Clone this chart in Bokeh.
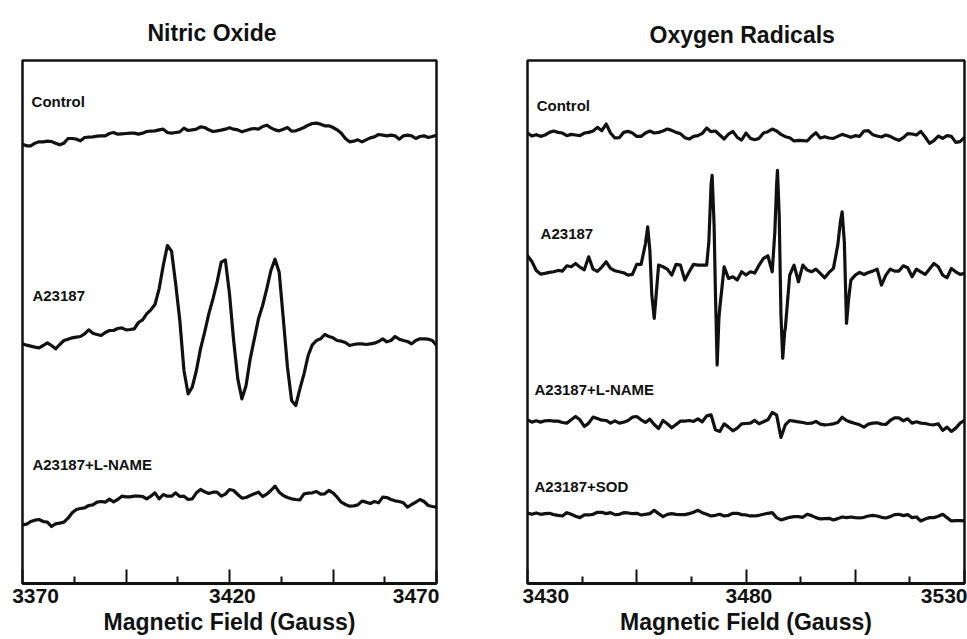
import numpy as np
from bokeh.plotting import figure
from bokeh.layouts import row
from bokeh.models import Range1d, FixedTicker, Label
from bokeh.embed import file_html
from bokeh.resources import INLINE

# ---------------- data (EPR first-derivative spectra, arbitrary units) ----------------
# Nitric oxide panel: field in Gauss, 1 G sampling
no_field = list(range(3370, 3471))
no_control = [-35, -40, -40, -32, -28, -28, -26, -27, -32, -37,
              -32, -18, -18, -20, -25, -15, -14, -13, -11, -10,
              -10, -3, 0, -5, -4, -3, -2, -2, -5, -2,
              3, 4, 5, 8, 10, 0, -2, 0, 2, 13,
              6, 8, 10, 17, 15, 8, 3, 5, 7, 10,
              14, 10, 8, 2, 6, 10, 12, 10, 18, 22,
              14, 8, 5, 10, 15, 4, 5, 10, 15, 22,
              27, 28, 25, 20, 20, 15, 8, -2, -18, -28,
              -26, -22, -28, -22, -16, -13, -6, -8, -10, -8,
              -10, -20, -10, -8, -10, -18, -12, -10, -15, -12,
              -8]
no_a23187 = [0, -4, -7, -10, -12, -5, 3, -5, -15, -2,
             10, 14, 18, 20, 22, 30, 42, 32, 28, 25,
             34, 40, 40, 46, 48, 42, 43, 45, 64, 72,
             90, 102, 118, 165, 235, 295, 278, 180, 70, -80,
             -150, -130, -80, -15, 35, 90, 135, 185, 245, 252,
             150, 10, -105, -165, -125, -45, 15, 75, 115, 165,
             220, 254, 215, 75, -70, -170, -185, -135, -90, -35,
             -3, 10, 15, 28, 22, 18, 10, 8, 4, -5,
             -2, 0, 0, -2, 0, 2, 7, 15, 6, 10,
             22, 14, 10, 7, 0, 10, 15, 15, 14, 10,
             -5]
no_lname = [-68, -66, -58, -54, -52, -58, -60, -73, -65, -63,
            -60, -48, -32, -22, -19, -17, -10, -8, 0, 2,
            0, 9, 1, 8, 18, 16, 16, 18, 18, 17,
            10, 18, 28, 10, 23, 18, 18, 28, 17, 18,
            8, 10, 28, 38, 31, 26, 30, 30, 18, 24,
            38, 35, 23, 12, 14, 20, 25, 30, 17, 24,
            35, 48, 30, 20, 14, 10, 8, 7, 25, 27,
            28, 32, 24, 25, 35, 28, 15, 0, -7, -12,
            -11, -8, 3, 0, -4, 2, -2, 15, 14, 8,
            4, 2, -2, -15, -7, 0, 8, 2, -10, -13,
            -15]
no_series = ["Control", "A23187", "A23187+L-NAME"]
no_major_ticks = [3370, 3395, 3420, 3445, 3470]
no_minor_ticks = [3382.5, 3407.5, 3432.5, 3457.5]
no_tick_labels = [3370, 3420, 3470]

# Oxygen radicals panel
o2_field = list(range(3430, 3531))
o2_control = [13, 4, 8, 3, 7, 15, 19, 15, 13, 5,
              9, 7, 5, 13, 15, 19, 30, 20, 40, 13,
              -2, -1, 15, 18, 13, 3, 3, 13, 19, 13,
              15, 19, 25, 21, 15, 11, -1, -5, 3, 5,
              12, 28, 17, 19, 7, -5, 10, 18, 0, -8,
              13, -3, -7, -3, 13, 17, 25, 19, 9, 2,
              -1, -11, -9, -10, -11, 3, 14, -2, 2, -2,
              -3, 3, 9, 5, 0, 5, 3, 19, 20, 8,
              4, 1, 7, 3, -4, -9, -1, 11, 10, 7,
              18, 1, -18, -10, 4, -3, 5, 3, -15, -13,
              0]
o2_a23187_field = [3430, 3431, 3432, 3433, 3434, 3435, 3436, 3437, 3438, 3439,
                   3440, 3441, 3442, 3443, 3444, 3445, 3446, 3447, 3448, 3449,
                   3450, 3451, 3452, 3453, 3454, 3455, 3456, 3457, 3457.5, 3458,
                   3458.45, 3459, 3460, 3461, 3462, 3463, 3464, 3465, 3466, 3467,
                   3468, 3469, 3470, 3471, 3471.5, 3472, 3472.25, 3472.7, 3473, 3473.4,
                   3473.8, 3474, 3475, 3476, 3477, 3478, 3479, 3480, 3481, 3482,
                   3483, 3484, 3485, 3486, 3486.6, 3487, 3487.2, 3487.6, 3488, 3488.4,
                   3488.85, 3489, 3490, 3491, 3492, 3493, 3494, 3495, 3496, 3497,
                   3498, 3499, 3500, 3501, 3501.6, 3502, 3502.5, 3503, 3503.5, 3504,
                   3505, 3506, 3507, 3508, 3509, 3510, 3511, 3512, 3513, 3514,
                   3515, 3516, 3517, 3518, 3519, 3520, 3521, 3522, 3523, 3524,
                   3525, 3526, 3527, 3528, 3529, 3530]
o2_a23187 = [48, 31, 4, -7, -5, -2, 0, 4, 2, 18,
             15, 25, 14, 6, 45, 8, 1, 14, 30, 10,
             3, 0, -3, -10, -8, 22, 22, 85, 135, 65,
             -70, -140, 20, 15, 8, -10, 22, 20, -25, 0,
             22, 20, 20, 20, 90, 260, 290, 140, -60, -280,
             -140, -110, 15, -20, -15, -25, 0, -10, 0, -4,
             20, 40, 48, 0, 120, 260, 305, 170, -130, -260,
             -180, -170, -10, 20, -30, 20, 5, 0, 8, -5,
             -18, -2, 10, 80, 150, 180, 90, -155, -80, -25,
             -10, -2, -8, -2, 2, 8, -40, -10, 8, 2,
             2, 18, 12, -15, 8, 0, -8, 8, 25, 15,
             -10, -18, 10, 0, -8, -5]
o2_lname = [5, -2, 2, -2, 2, 3, 1, 1, -3, -5,
            5, 15, 5, -15, -5, 13, 9, 4, 3, -5,
            2, -5, -2, 3, 13, 15, 5, -3, 7, -9,
            -21, 3, -7, -19, -9, 1, 1, 3, 0, 8,
            -1, 17, 20, -25, -30, -7, -17, -28, -20, -7,
            -6, -5, 3, -7, -1, 5, 27, 20, -48, -10,
            3, 1, -1, -3, -6, -5, 0, -8, -10, -9,
            -7, -3, 13, 3, -2, -6, -10, -17, -8, -5,
            -4, -8, -9, 3, 11, 11, 2, 8, -5, -1,
            -5, -6, -9, -10, -7, -27, -17, -30, -20, -5,
            3]
o2_sod = [9, 5, 9, 5, 7, 8, 4, 2, 0, 10,
          5, -1, -5, 3, 3, 5, 11, 11, 7, 10,
          4, 5, 10, 9, 7, 8, 3, 5, 7, 17,
          7, -2, 5, 7, 5, 4, 4, 7, 11, 17,
          10, 5, 0, 2, 5, 0, 2, 8, 8, 4,
          3, 0, 0, 2, 5, 8, 10, -5, -12, -8,
          -4, -2, -2, -4, 5, 1, -5, -9, -8, -7,
          -12, -8, -3, -5, -3, -5, -6, -4, 0, 2,
          0, -4, -6, -2, 4, 5, 1, 4, -5, -3,
          -15, -9, -5, -5, -1, 5, -5, -15, -14, -14,
          -15]
o2_series = ["Control", "A23187", "A23187+L-NAME", "A23187+SOD"]
o2_major_ticks = [3430, 3455, 3480, 3505, 3530]
o2_minor_ticks = [3442.5, 3467.5, 3492.5, 3517.5]
o2_tick_labels = [3430, 3480, 3530]

# ---------------- styling / layout ----------------
FONT = "Liberation Sans"
INK = "#111111"
NBSP = "\u00a0"


def make_panel(title, title_offset, title_standoff, xr, ymax, width, borders,
               traces, offsets, names, name_xy, major, minor, tick_labels, tick_pad):
    left, right, top, bottom = borders
    p = figure(width=width, height=639, x_range=Range1d(*xr), y_range=Range1d(0, ymax),
               output_backend="svg", toolbar_location=None, y_axis_location=None,
               title=title,
               min_border_left=left, min_border_right=right,
               min_border_top=top, min_border_bottom=bottom)
    p.grid.visible = False
    p.background_fill_color = "white"
    p.border_fill_color = "white"
    p.outline_line_color = INK
    p.outline_line_width = 2.5

    p.title.align = "left"
    p.title.offset = title_offset
    p.title.vertical_align = "bottom"
    p.title.standoff = title_standoff
    p.title.text_font = FONT
    p.title.text_font_style = "bold"
    p.title.text_font_size = "23px"
    p.title.text_color = INK

    ax = p.xaxis[0]
    ax.ticker = FixedTicker(ticks=major, minor_ticks=minor)
    ax.axis_line_color = INK
    ax.axis_line_width = 3
    ax.major_tick_in = 14
    ax.major_tick_out = 0
    ax.minor_tick_in = 7
    ax.minor_tick_out = 0
    ax.major_tick_line_width = 2
    ax.minor_tick_line_width = 2
    ax.major_tick_line_color = INK
    ax.minor_tick_line_color = INK
    # only the three labelled field values are printed; padding nudges end labels inward
    overrides = {t: "" for t in major}
    for t, (lead, trail) in zip(tick_labels, tick_pad):
        overrides[t] = NBSP * lead + str(t) + NBSP * trail
    ax.major_label_overrides = overrides
    ax.major_label_text_font = FONT
    ax.major_label_text_font_style = "bold"
    ax.major_label_text_font_size = "21px"
    ax.major_label_text_color = INK
    ax.major_label_standoff = 0
    ax.axis_label = "Magnetic Field (Gauss)"
    ax.axis_label_text_font = FONT
    ax.axis_label_text_font_style = "bold"
    ax.axis_label_text_font_size = "23px"
    ax.axis_label_text_color = INK
    ax.axis_label_standoff = -1

    for (xs, ys), off in zip(traces, offsets):
        p.line(xs, np.asarray(ys, dtype=float) + off, line_color=INK, line_width=3.2,
               line_join="round", line_cap="round")

    for name, (nx, ny) in zip(names, name_xy):
        p.add_layout(Label(x=nx, y=ny, text=name, text_font=FONT, text_font_style="bold",
                           text_font_size="15px", text_color=INK,
                           text_align="left", text_baseline="middle"))
    return p


p1 = make_panel(
    "Nitric Oxide", 125, 30, (3370, 3470), 1569, 487, (22, 51, 60, 56),
    [(no_field, no_control), (no_field, no_a23187), (no_field, no_lname)],
    [1353, 719, 244],
    no_series, [(3372.2, 1446), (3372.4, 864), (3372.4, 357)],
    no_major_ticks, no_minor_ticks, no_tick_labels, [(2, 0), (1, 0), (0, 7)])

p2 = make_panel(
    "Oxygen Radicals", 122, 26, (3430, 3530), 1572, 480, (40, 3, 60, 55),
    [(o2_field, o2_control), (o2_a23187_field, o2_a23187),
     (o2_field, o2_lname), (o2_field, o2_sod)],
    [1341, 937, 487, 203],
    o2_series, [(3432.1, 1437), (3433.0, 1053), (3431.6, 582), (3431.6, 291)],
    o2_major_ticks, o2_minor_ticks, o2_tick_labels, [(6, 0), (1, 0), (0, 0)])

layout = row(p1, p2, spacing=0)
open("out.html", "w").write(file_html(layout, INLINE))
